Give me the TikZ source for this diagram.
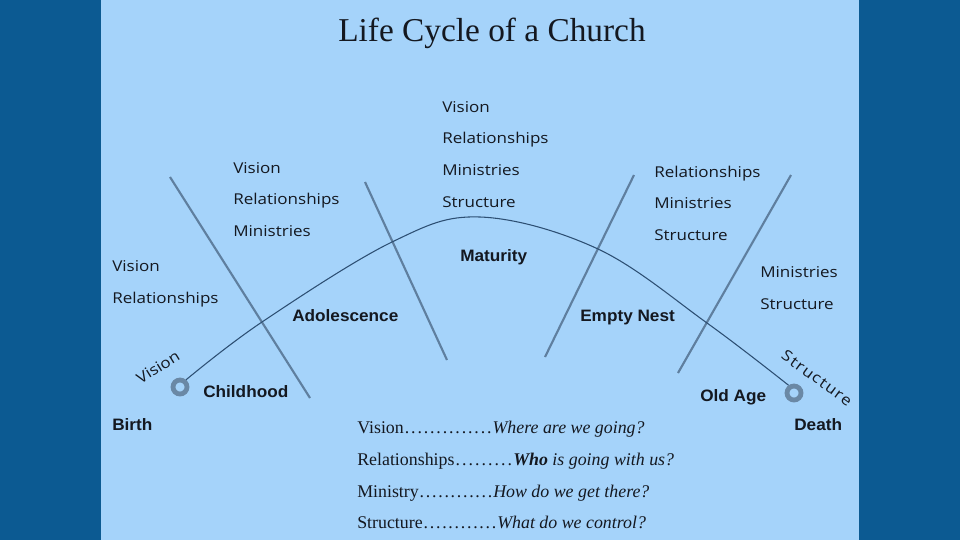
\documentclass[tikz,border=0pt]{standalone}
\usepackage{fontspec}
\newfontfamily\comicf[FakeStretch=1.14]{Open Sans}
\newfontfamily\comicsp[FakeStretch=1.14,LetterSpace=8]{Open Sans}
\newfontfamily\boldf[FakeStretch=1.04]{Liberation Sans}
\newfontfamily\timesf{Liberation Serif}
\definecolor{bgdark}{HTML}{0C5A92}
\definecolor{panel}{HTML}{A5D3FA}
\definecolor{divline}{HTML}{5F7F9F}
\definecolor{curvec}{HTML}{2D4F73}
\definecolor{ringc}{HTML}{6A88A5}
\definecolor{txt}{HTML}{141820}
\newcommand\legdots{\xleaders\hbox to 4.6pt{\hss.\hss}\hfill}
\tikzset{
  comic/.style={anchor=base west, inner sep=0pt, text=txt, font=\comicf\fontsize{11.2pt}{13pt}\selectfont},
  stage/.style={anchor=base west, inner sep=0pt, text=txt, font=\boldf\bfseries\fontsize{12.4pt}{14pt}\selectfont},
  legend/.style={anchor=base west, inner sep=0pt, text=txt, font=\timesf\fontsize{13.4pt}{15pt}\selectfont},
  divider/.style={draw=divline, line width=1.6pt},
  lifecurve/.style={draw=curvec, line width=0.8pt},
  ring/.style={circle, draw=ringc, line width=3.6pt, minimum size=10.5pt, inner sep=0pt},
}
\begin{document}
\begin{tikzpicture}[x=0.75pt,y=-0.75pt]
\useasboundingbox (0,0) rectangle (960,540);
\fill[bgdark] (0,0) rectangle (960,540);
\fill[panel] (101,0) rectangle (859,540);

% title
\node[inner sep=0pt, text=txt, font=\timesf\fontsize{25pt}{28pt}\selectfont] (title) at (492,33) {Life Cycle of a Church};

% dividers
\coordinate (d1a) at (170,177); \coordinate (d1b) at (310,398);
\coordinate (d2a) at (365,182); \coordinate (d2b) at (447,360);
\coordinate (d3a) at (634,175); \coordinate (d3b) at (545,357);
\coordinate (d4a) at (791,175); \coordinate (d4b) at (678,373);
\draw[divider] (d1a) -- (d1b);
\draw[divider] (d2a) -- (d2b);
\draw[divider] (d3a) -- (d3b);
\draw[divider] (d4a) -- (d4b);

% rings
\node[ring] (birthring) at (180,387) {};
\node[ring] (deathring) at (794,393) {};

% curve
\coordinate (c1) at (262,322);
\coordinate (c2) at (392,242);
\coordinate (c3) at (480,217);
\coordinate (c4) at (598,249);
\coordinate (c5) at (707,323);
\draw[lifecurve] plot[smooth, tension=0.6] coordinates {(birthring.50) (c1) (c2) (c3) (c4) (c5) (deathring.125)};

% rotated labels
\node[inner sep=0pt, text=txt, font=\comicf\fontsize{11.2pt}{13pt}\selectfont, rotate=31.6] (vrot) at (158,367) {Vision};
\node[inner sep=0pt, text=txt, font=\comicsp\fontsize{11.2pt}{13pt}\selectfont, rotate=-36] (srot) at (817,378) {Structure};

% comic groups
\node[comic] (g1a) at (112,271) {Vision};
\node[comic] (g1b) at (112,303) {Relationships};

\node[comic] (g2a) at (233,173) {Vision};
\node[comic] (g2b) at (233,204.5) {Relationships};
\node[comic] (g2c) at (233,236) {Ministries};

\node[comic] (g3a) at (442,112) {Vision};
\node[comic] (g3b) at (442,143.5) {Relationships};
\node[comic] (g3c) at (442,175) {Ministries};
\node[comic] (g3d) at (442,207) {Structure};

\node[comic] (g4a) at (654,177) {Relationships};
\node[comic] (g4b) at (654,208.5) {Ministries};
\node[comic] (g4c) at (654,240.5) {Structure};

\node[comic] (g5a) at (760,277.5) {Ministries};
\node[comic] (g5b) at (760,309.5) {Structure};

% stage labels
\node[stage] (childhood) at (203,397) {Childhood};
\node[stage] (birth) at (112,430.5) {Birth};
\node[stage] (adolescence) at (292,321) {Adolescence};
\node[stage] (maturity) at (460,261.5) {Maturity};
\node[stage] (emptynest) at (580,321) {Empty Nest};
\node[stage] (oldage) at (700,401) {Old Age};
\node[stage] (death) at (794,430) {Death};

% legend
\node[legend] (l1) at (357,433) {\makebox[101.5pt][l]{Vision\legdots}\textit{Where are we going?}};
\node[legend] (l2) at (357,465) {\makebox[117pt][l]{Relationships\legdots}\textit{\textbf{Who} is going with us?}};
\node[legend] (l3) at (357,497) {\makebox[102pt][l]{Ministry\legdots}\textit{How do we get there?}};
\node[legend] (l4) at (357,528) {\makebox[105pt][l]{Structure\legdots}\textit{What do we control?}};
\end{tikzpicture}
\end{document}
